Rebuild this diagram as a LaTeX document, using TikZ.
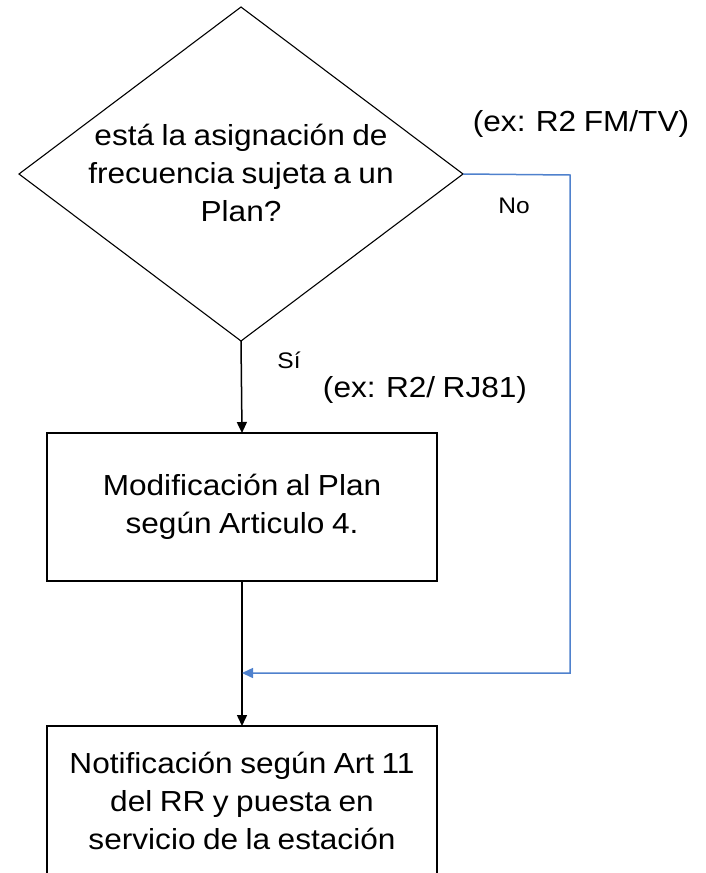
\documentclass[tikz,border=0pt]{standalone}
\usepackage{fontspec}
\setmainfont{Liberation Sans}[FakeStretch=1.09, WordSpace=0.85]
\usetikzlibrary{shapes.geometric,arrows.meta}
\definecolor{noblue}{RGB}{79,129,205}

\begin{document}
\begin{tikzpicture}[x=1pt,y=-1pt]
 	\tikzstyle{every node}+=[inner sep=0pt, outer sep=0pt]
 	\tikzstyle{decision}=[draw, diamond, minimum width=444pt, minimum height=334pt, line width=1.1pt]
 	\tikzstyle{stepbox}=[draw, rectangle, minimum width=390pt, minimum height=148pt, line width=1.6pt]
 	\tikzstyle{big}=[font=\fontsize{29}{38}\selectfont, align=center]
 	\tikzstyle{small}=[font=\fontsize{22.5}{26}\selectfont]
 	\tikzstyle{flow}=[line width=1.5pt, -{Triangle[length=11pt,width=10pt]}]
 	\tikzstyle{noflow}=[flow, noblue]
 	\useasboundingbox (0,0) rectangle (706,873);
 	\node [decision] (plan) at (241,174) {};
 	\node [big] (plantext) at (241,173) {está la asignación de\\frecuencia sujeta a un\\Plan?};
 	\node [stepbox, big] (mod) at (242,507) {Modificación al Plan\\según Articulo 4.};
 	\node [stepbox, big, minimum height=150pt] (notif) at (242,801) {Notificación según Art 11\\del RR y puesta en\\servicio de la estación};
 	\node [big] (exfm) at (581,124) {(ex: R2 FM/TV)};
 	\node [small] (no) at (514,206) {No};
 	\node [small] (si) at (289,360) {Sí};
 	\node [big] (exrj) at (425,390) {(ex: R2/ RJ81)};
 	\coordinate (noturn) at (570,175);
 	\coordinate (joint) at (242,673);
 	\draw [flow] (plan.south) -- (mod.north);
 	\draw [flow] (mod.south) -- (notif.north);
 	\draw [noflow] (plan.east) -- (noturn) |- (joint);
\end{tikzpicture}
\end{document}
